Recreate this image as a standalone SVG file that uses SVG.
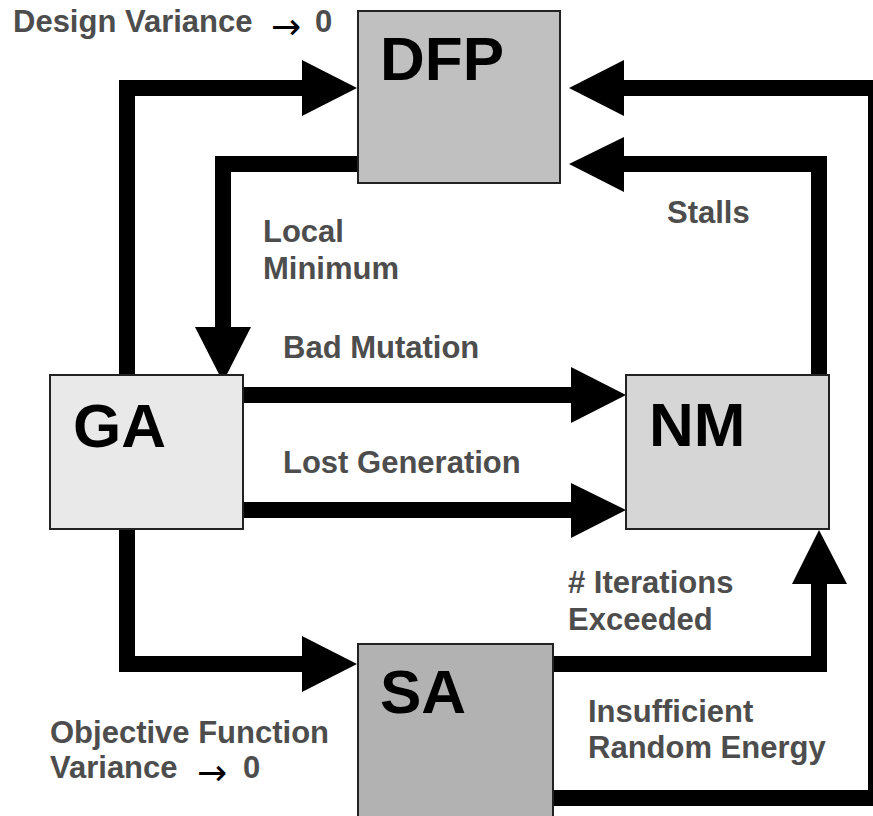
<svg xmlns="http://www.w3.org/2000/svg" width="873" height="816" viewBox="0 0 873 816">
<style>
.box{stroke:#222;stroke-width:2}
.title{font-family:"Liberation Sans",Arial,sans-serif;font-weight:bold;font-size:62px;fill:#000}
.lbl{font-family:"Liberation Sans",Arial,sans-serif;font-weight:bold;font-size:31px;fill:#4d4d4d}
.sym{font-family:"DejaVu Sans",sans-serif;font-weight:normal;font-size:36px;fill:#000}
.wire{fill:none;stroke:#000;stroke-width:16;stroke-linejoin:miter;stroke-linecap:butt}
.head{fill:#000}
</style>
<rect width="873" height="816" fill="#fff"/>
<g id="connectors">
  <polyline class="wire" points="127,375 127,88 303,88"/>
  <polygon class="head" points="357,88 302,60 302,116"/>
  <polyline class="wire" points="358,164 223,164 223,328"/>
  <polygon class="head" points="223,382 195,327 251,327"/>
  <polyline class="wire" points="243,395 572,395"/>
  <polygon class="head" points="626,395 571,367 571,423"/>
  <polyline class="wire" points="243,510 572,510"/>
  <polygon class="head" points="626,510 571,483 571,538"/>
  <polyline class="wire" points="819,375 819,164 623,164"/>
  <polygon class="head" points="569,164 624,137 624,192"/>
  <polyline class="wire" points="553,798 876,798 876,88 623,88"/>
  <polygon class="head" points="569,88 624,60 624,116"/>
  <polyline class="wire" points="127,529 127,664 303,664"/>
  <polygon class="head" points="357,664 302,636 302,692"/>
  <polyline class="wire" points="553,664 819,664 819,583"/>
  <polygon class="head" points="819,530 792,584 847,584"/>
</g>
<g id="DFP">
  <rect class="box" x="358" y="11" width="202" height="172" fill="#c0c0c0"/>
  <text class="title" x="380" y="80">DFP</text>
</g>
<g id="GA">
  <rect class="box" x="50" y="375" width="193" height="154" fill="#e9e9e9"/>
  <text class="title" x="73" y="447">GA</text>
</g>
<g id="NM">
  <rect class="box" x="626" y="375" width="203" height="154" fill="#d6d6d6"/>
  <text class="title" x="649" y="446">NM</text>
</g>
<g id="SA">
  <rect class="box" x="358" y="644" width="195" height="190" fill="#b2b2b2"/>
  <text class="title" x="380" y="713">SA</text>
</g>
<g id="labels">
  <text class="lbl" x="13" y="32">Design Variance</text>
  <text class="sym" x="271" y="39">→</text>
  <text class="lbl" x="315" y="32">0</text>
  <text class="lbl" x="263" y="242">Local</text>
  <text class="lbl" x="263" y="279">Minimum</text>
  <text class="lbl" x="667" y="223">Stalls</text>
  <text class="lbl" x="283" y="358">Bad Mutation</text>
  <text class="lbl" x="283" y="473">Lost Generation</text>
  <text class="lbl" x="568" y="593"># Iterations</text>
  <text class="lbl" x="568" y="630">Exceeded</text>
  <text class="lbl" x="588" y="722">Insufficient</text>
  <text class="lbl" x="588" y="758">Random Energy</text>
  <text class="lbl" x="50" y="743">Objective Function</text>
  <text class="lbl" x="50" y="778">Variance</text>
  <text class="sym" x="197" y="785">→</text>
  <text class="lbl" x="243" y="778">0</text>
</g>
</svg>
